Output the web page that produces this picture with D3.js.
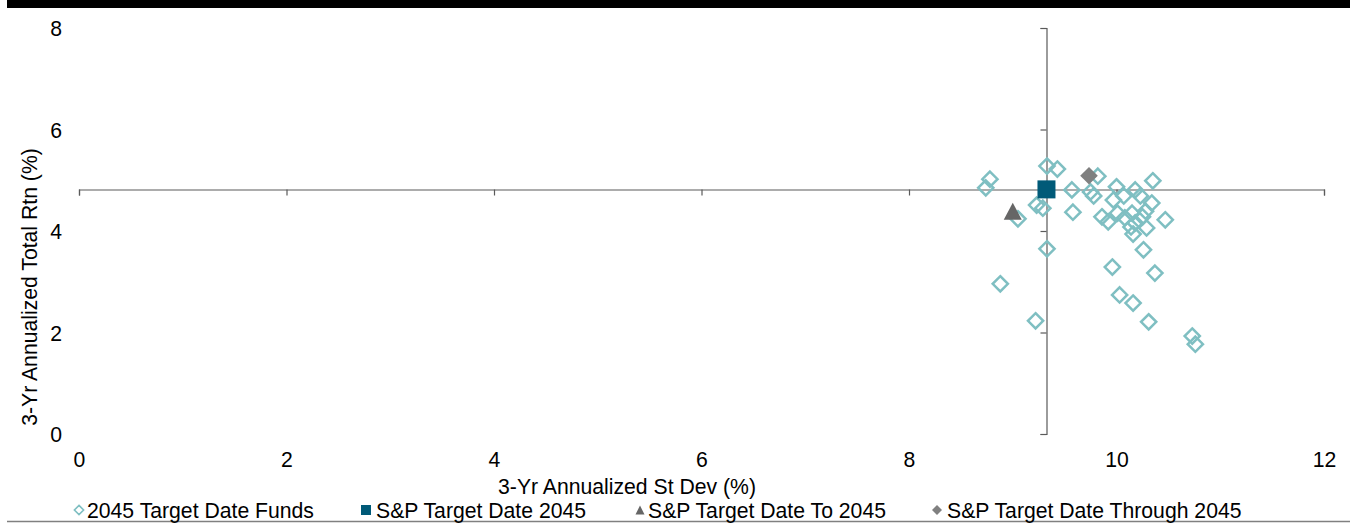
<!DOCTYPE html>
<html>
<head>
<meta charset="utf-8">
<script src="https://cdn.jsdelivr.net/npm/d3@7"></script>
<style>
  html, body { margin: 0; padding: 0; background: #fff; }
  svg { display: block; font-family: "Liberation Sans", Arial, sans-serif; }
</style>
</head>
<body>
<svg id="chart" width="1353" height="525"></svg>
<script>
// ---- data ----
const xTicks = [0, 2, 4, 6, 8, 10, 12];
const yTicks = [0, 2, 4, 6, 8];
const xTitle = "3-Yr Annualized St Dev (%)";
const yTitle = "3-Yr Annualized Total Rtn (%)";
const seriesNames = ["2045 Target Date Funds", "S&P Target Date 2045", "S&P Target Date To 2045", "S&P Target Date Through 2045"];

// 2045 Target Date Funds: [st dev, total return]
const fundStDev = [8.78, 8.74, 9.05, 9.23, 9.29, 9.33, 8.88, 9.22, 9.33, 9.43, 9.82, 9.57, 9.58, 9.75, 9.78,
  10.00, 10.18, 10.35, 9.97, 10.23, 10.34, 10.47, 9.86, 9.92, 10.01, 10.08, 10.15, 10.18, 10.25, 10.29,
  10.14, 10.16, 10.28, 10.26, 9.96, 10.37, 10.03, 10.16, 10.31, 10.73, 10.76, 10.07];
const fundReturn = [5.02, 4.85, 4.24, 4.51, 4.45, 3.65, 2.96, 2.23, 5.28, 5.22, 5.08, 4.81, 4.37, 4.77, 4.69,
  4.87, 4.81, 4.99, 4.61, 4.69, 4.55, 4.22, 4.28, 4.18, 4.35, 4.26, 4.35, 4.16, 4.28, 4.06,
  4.08, 3.94, 4.39, 3.63, 3.29, 3.17, 2.74, 2.58, 2.21, 1.93, 1.77, 4.69];

const sp2045 = [9.325, 4.82];
const spTo2045 = [9.0, 4.39];
const spThrough2045 = [9.735, 5.09];

// ---- layout ----
const svg = d3.select("#chart");
const x = d3.scaleLinear().domain([0, 12]).range([79, 1324]);
const y = d3.scaleLinear().domain([0, 8]).range([434, 28]);
const FONT = 21.2;
const axisColor = "#5a5a5a";

// top bar and bottom rule
svg.append("rect").attr("x", 7).attr("y", 0).attr("width", 1343).attr("height", 8).attr("fill", "#000");
svg.append("line").attr("x1", 7).attr("x2", 1350).attr("y1", 521.5).attr("y2", 521.5)
  .attr("stroke", "#808080").attr("stroke-width", 1.5);

// crossing axes (at S&P Target Date 2045)
const crossY = Math.round(y(sp2045[1])) + 0.5;
const crossX = Math.round(x(sp2045[0])) + 0.5;
const gx = svg.append("g").attr("transform", `translate(0,${crossY})`)
  .call(d3.axisBottom(x).tickValues(xTicks).tickSizeInner(6).tickSizeOuter(6).tickFormat(""));
const gy = svg.append("g").attr("transform", `translate(${crossX},0)`)
  .call(d3.axisLeft(y).tickValues(yTicks).tickSizeInner(6).tickSizeOuter(6).tickFormat(""));
[gx, gy].forEach(g => {
  g.selectAll("path, line").attr("stroke", axisColor).attr("stroke-width", 1.2);
});

// tick labels at the plot edges
const gxl = svg.append("g").attr("transform", "translate(0,448)")
  .call(d3.axisBottom(x).tickValues(xTicks).tickSize(0).tickPadding(0).tickFormat(d3.format("d")));
const gyl = svg.append("g").attr("transform", "translate(62,0)")
  .call(d3.axisLeft(y).tickValues(yTicks).tickSize(0).tickPadding(0).tickFormat(d3.format("d")));
[gxl, gyl].forEach(g => {
  g.select(".domain").remove();
  g.selectAll("text").attr("font-size", FONT).attr("font-family", "Liberation Sans, Arial, sans-serif").attr("fill", "#000");
});
gxl.selectAll("text").attr("dy", "0.71em").attr("y", 4);
gyl.selectAll("text").attr("dy", "0.36em");

// axis titles
svg.append("text").attr("x", 627).attr("y", 494).attr("text-anchor", "middle")
  .attr("font-size", FONT).attr("fill", "#000").text(xTitle);
svg.append("text").attr("transform", "translate(37,287) rotate(-90)").attr("text-anchor", "middle")
  .attr("font-size", FONT).attr("fill", "#000").text(yTitle);

// markers
const diamondPath = r => `M0,${-r}L${r},0L0,${r}L${-r},0Z`;
const teal = "#7fbfc2";
const navy = "#005a78";
const dgray = "#666666";
const mgray = "#808080";

const funds = fundStDev.map((d, i) => [d, fundReturn[i]]);
svg.append("g").selectAll("path").data(funds).join("path")
  .attr("transform", d => `translate(${x(d[0])},${y(d[1])})`)
  .attr("d", diamondPath(7.6))
  .attr("fill", "none").attr("stroke", teal).attr("stroke-width", 2.5);

svg.append("rect")
  .attr("x", x(sp2045[0]) - 9).attr("y", y(sp2045[1]) - 9)
  .attr("width", 18).attr("height", 18).attr("fill", navy);

const triPath = (w, h) => `M0,${-h/2}L${w/2},${h/2}L${-w/2},${h/2}Z`;
svg.append("path").attr("transform", `translate(${x(spTo2045[0])},${y(spTo2045[1])})`)
  .attr("d", triPath(18, 17)).attr("fill", dgray);

svg.append("path").attr("transform", `translate(${x(spThrough2045[0])},${y(spThrough2045[1])})`)
  .attr("d", diamondPath(8.8)).attr("fill", mgray);

// legend
const legendY = 510;
const legendItems = [
  { name: seriesNames[0], mx: 79, tx: 87, kind: "hollow" },
  { name: seriesNames[1], mx: 366, tx: 376, kind: "square" },
  { name: seriesNames[2], mx: 640, tx: 648, kind: "tri" },
  { name: seriesNames[3], mx: 937, tx: 947, kind: "diamond" }
];
const lg = svg.append("g");
legendItems.forEach(it => {
  if (it.kind === "hollow") {
    lg.append("path").attr("transform", `translate(${it.mx},${legendY})`).attr("d", diamondPath(4.6))
      .attr("fill", "none").attr("stroke", teal).attr("stroke-width", 1.6);
  } else if (it.kind === "square") {
    lg.append("rect").attr("x", it.mx - 5).attr("y", legendY - 5).attr("width", 10).attr("height", 10).attr("fill", navy);
  } else if (it.kind === "tri") {
    lg.append("path").attr("transform", `translate(${it.mx},${legendY})`).attr("d", triPath(9, 9)).attr("fill", dgray);
  } else {
    lg.append("path").attr("transform", `translate(${it.mx},${legendY})`).attr("d", diamondPath(5)).attr("fill", mgray);
  }
  lg.append("text").attr("x", it.tx).attr("y", legendY + 7.5).attr("font-size", FONT).attr("fill", "#000").text(it.name);
});
</script>
</body>
</html>
